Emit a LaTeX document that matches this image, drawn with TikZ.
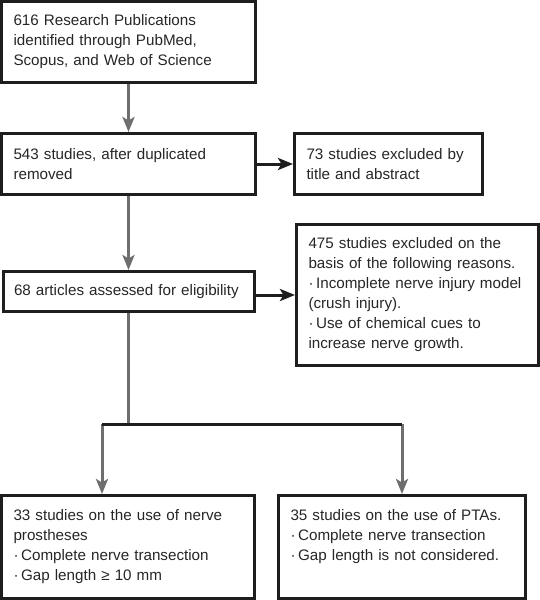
\documentclass[tikz,border=0pt]{standalone}
\usepackage{fontspec}
\setmainfont{Liberation Sans}
\usetikzlibrary{arrows.meta}

\definecolor{boxline}{HTML}{1E1E1E}
\definecolor{arrowgray}{HTML}{6E6E6E}
\definecolor{txtgray}{HTML}{262626}

\tikzset{
  box/.style={draw=boxline, line width=3pt, rectangle, align=left, inner xsep=12pt, inner ysep=0pt, text=txtgray, font={\fontsize{15.2}{20}\selectfont\hyphenpenalty=10000}},
  outcome/.style={minimum height=103pt, text height=11pt, text depth=64pt},
  grayline/.style={draw=arrowgray, line width=3pt},
  grayarrow/.style={grayline, -{Stealth[length=15pt, width=12pt, inset=3.5pt]}},
  blackarrow/.style={draw=boxline, line width=3pt, -{Stealth[length=15pt, width=12pt, inset=3.5pt]}}
}

\begin{document}
\begin{tikzpicture}[x=1pt, y=-1pt]
\def\xleft{128.5};
\def\xright{388.5};
\def\xreason{417.5};
\def\xptas{402};
\def\xbranch{102};

\def\ytop{42};
\def\ydedup{164};
\def\yelig{291.5};
\def\yreason{295};
\def\yfork{424};
\def\ybot{547};

\useasboundingbox (0,0) rectangle (540,600);

\node [box, text width=230pt, minimum height=81pt] (pubs) at (\xleft, \ytop) {616 Research Publications\\identified through PubMed,\\Scopus, and Web of Science};
\node [box, text width=230pt, minimum height=61pt] (dedup) at (\xleft, \ydedup) {543 studies, after duplicated\\removed};
\node [box, text width=164pt, minimum height=61pt] (extitle) at (\xright, \ydedup) {73 studies excluded by\\title and abstract};
\node [box, inner xsep=11pt, text width=229pt, minimum height=40pt] (elig) at (\xleft, \yelig) {68 articles assessed for eligibility};
\node [box, text width=218pt, minimum height=141pt] (exreason) at (\xreason, \yreason) {475 studies excluded on the\\basis of the following reasons.\\·\,Incomplete nerve injury model\\(crush injury).\\·\,Use of chemical cues to\\increase nerve growth.};
\node [box, outcome, text width=229pt] (prosth) at (128, \ybot) {33 studies on the use of nerve\\prostheses\\·\,Complete nerve transection\\·\,Gap length ≥ 10 mm};
\node [box, outcome, text width=223pt] (ptas) at (\xptas, \ybot) {35 studies on the use of PTAs.\\·\,Complete nerve transection\\·\,Gap length is not considered.};

\coordinate (fork) at (elig.south |- 0,\yfork);
\coordinate (forkl) at (\xbranch, \yfork);
\coordinate (forkr) at (ptas.north |- fork);

\draw [grayarrow] (pubs) -- (dedup);
\draw [blackarrow] (dedup) -- (extitle);
\draw [grayarrow] (dedup) -- (elig);
\draw [blackarrow] (exreason.west -| elig.east) -- (exreason.west);

\draw [grayline] (elig) -- (fork);
\draw [grayarrow] (forkl) -- (prosth.north -| forkl);
\draw [grayarrow] (forkr) -- (ptas);
\draw [draw=boxline, line width=3pt] (forkl) -- (forkr);

\end{tikzpicture}
\end{document}
